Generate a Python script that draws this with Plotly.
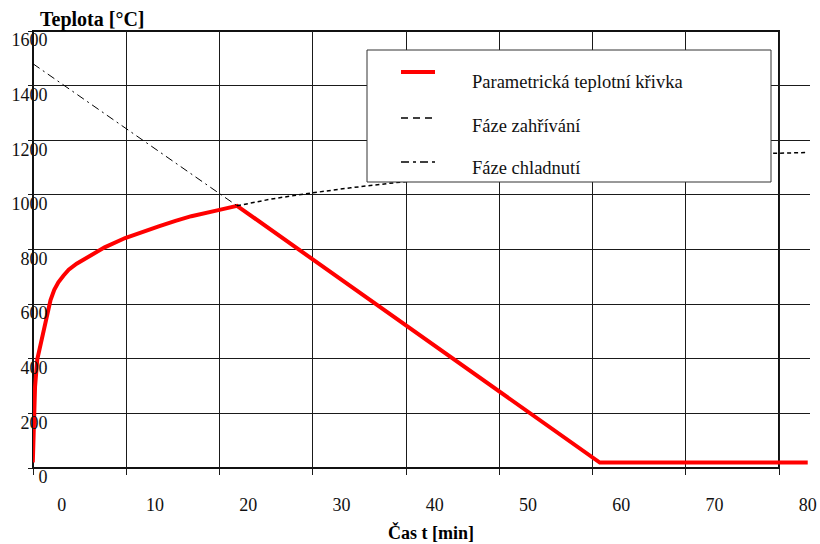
import plotly.graph_objects as go

# ---------------- data ----------------
param_time = [-3.1, -2.95, -2.86, -2.62, -2.3, -1.97, -1.55, -1.2, -0.8, -0.36, 0.2, 0.75, 1.6, 2.6, 3.6, 4.6, 6.8,
              8.6, 10.4, 12.2, 13.9, 16.8, 18.8, 57.7, 80.0]
param_temp = [20, 200, 297, 398, 450, 495, 565, 615, 652, 680, 705, 726, 748, 768, 789, 808, 842,
              865, 885, 905, 922, 944, 960, 20, 20]

heat_time = [18.8, 22.5, 26.8, 31.0, 35.6, 45.0, 55.0, 65.0, 76.0, 80.0]
heat_temp = [960, 985, 1007, 1026, 1044, 1075, 1102, 1125, 1152, 1155]

cool_time = [-3.08, 18.8]
cool_temp = [1480, 960]

x_tick_vals = [0, 10, 20, 30, 40, 50, 60, 70, 80]
x_tick_text = ["0", "10", "20", "30", "40", "50", "60", "70", "80"]
y_tick_vals = [0, 200, 400, 600, 800, 1000, 1200, 1400, 1600]
y_tick_text = ["0", "200", "400", "600", "800", "1000", "1200", "1400", "1600"]

legend_names = ["Parametrická teplotní křivka", "Fáze zahřívání", "Fáze chladnutí"]
x_title = "Čas t [min]"
y_title = "Teplota [°C]"

# ---------------- layout constants ----------------
W, H = 820, 544
ML, MR, MT, MB = 33, 10, 31, 76
PW, PH = W - ML - MR, H - MT - MB
X0 = -3.08            # left edge of frame (time units)
PX_PER_MIN = 9.325
X1 = X0 + PW / PX_PER_MIN
grid_x = [X0 + 10 * k for k in range(9)]
FONT = "Liberation Serif, Times New Roman, serif"


def px(xp):
    return (xp - ML) / PW


def py(yp):
    return (H - MB - yp) / PH


fig = go.Figure()
fig.add_trace(go.Scatter(x=param_time, y=param_temp, mode="lines",
                         line=dict(color="#ff0000", width=4),
                         name=legend_names[0], showlegend=False))
fig.add_trace(go.Scatter(x=heat_time, y=heat_temp, mode="lines",
                         line=dict(color="#000000", width=1.5, dash="4px,3px"),
                         name=legend_names[1], showlegend=False))
fig.add_trace(go.Scatter(x=cool_time, y=cool_temp, mode="lines",
                         line=dict(color="#000000", width=1, dash="8px,4px,2px,4px"),
                         name=legend_names[2], showlegend=False))
# invisible trace on the label axis
fig.add_trace(go.Scatter(x=[X0, X1], y=[None, None], xaxis="x2", yaxis="y",
                         mode="lines", showlegend=False, hoverinfo="skip"))

frame_right = (grid_x[-1] - X0) / (X1 - X0)
shapes = [
    # hide gridlines to the right of the frame
    dict(type="rect", xref="x", yref="paper", x0=grid_x[-1] + 1.3 / PX_PER_MIN, x1=X1 + 1,
         y0=-0.001, y1=1.001, fillcolor="white", line=dict(width=0), layer="below"),
    # frame (paper-referenced so its edges are not clipped)
    dict(type="rect", xref="paper", yref="paper", x0=0, x1=frame_right, y0=0, y1=1,
         line=dict(color="#111111", width=2), fillcolor="rgba(0,0,0,0)", layer="below"),
    # legend box
    dict(type="rect", xref="paper", yref="paper", x0=px(367), x1=px(771), y0=py(182), y1=py(50),
         line=dict(color="#333333", width=1), fillcolor="white", layer="above"),
    dict(type="line", xref="paper", yref="paper", x0=px(401), x1=px(435), y0=py(72), y1=py(72),
         line=dict(color="#ff0000", width=4), layer="above"),
    dict(type="line", xref="paper", yref="paper", x0=px(401), x1=px(435), y0=py(118), y1=py(118),
         line=dict(color="#000000", width=1.5, dash="7px,5px"), layer="above"),
    dict(type="line", xref="paper", yref="paper", x0=px(401), x1=px(435), y0=py(162), y1=py(162),
         line=dict(color="#000000", width=1.5, dash="8px,4px,3px,4px"), layer="above"),
]

LEG_FONT = dict(family=FONT, size=18.5, color="#111")
annotations = [
    dict(text=legend_names[0], xref="paper", yref="paper", x=px(470), y=py(82),
         xanchor="left", yanchor="middle", showarrow=False, font=LEG_FONT),
    dict(text=legend_names[1], xref="paper", yref="paper", x=px(470), y=py(126),
         xanchor="left", yanchor="middle", showarrow=False, font=LEG_FONT),
    dict(text=legend_names[2], xref="paper", yref="paper", x=px(470), y=py(168),
         xanchor="left", yanchor="middle", showarrow=False, font=LEG_FONT),
    dict(text="<b>" + y_title + "</b>", xref="paper", yref="paper", x=px(92), y=py(19),
         xanchor="center", yanchor="middle", showarrow=False, font=dict(family=FONT, size=20, color="#000")),
    dict(text="<b>" + x_title + "</b>", xref="paper", yref="paper", x=px(431), y=py(532),
         xanchor="center", yanchor="middle", showarrow=False, font=dict(family=FONT, size=18, color="#000")),
]

fig.update_layout(
    width=W, height=H,
    margin=dict(l=ML, r=MR, t=MT, b=MB, pad=0, autoexpand=False),
    paper_bgcolor="white", plot_bgcolor="rgba(0,0,0,0)",
    font=dict(family=FONT, size=18, color="#111"),
    showlegend=False,
    xaxis=dict(range=[X0, X1], tickmode="array", tickvals=grid_x, showticklabels=False,
               showgrid=True, gridcolor="#1a1a1a", gridwidth=1, zeroline=False, showline=False,
               ticks="outside", ticklen=6, tickcolor="#1a1a1a", tickwidth=1, fixedrange=True,
               automargin=False),
    xaxis2=dict(overlaying="x", anchor="y", side="bottom", range=[X0, X1], tickmode="array",
                tickvals=x_tick_vals, ticktext=x_tick_text, showgrid=False, zeroline=False,
                showline=False, ticks="", ticklabelstandoff=24, automargin=False,
                tickfont=dict(family=FONT, size=18, color="#111")),
    yaxis=dict(range=[0, 1600], tickmode="array", tickvals=y_tick_vals, ticktext=y_tick_text,
               showgrid=True, gridcolor="#1a1a1a", gridwidth=1, zeroline=False,
               showline=False,
               ticks="outside", ticklen=4, tickcolor="#1a1a1a",
               ticklabelstandoff=-23, ticklabelshift=9, automargin=False,
               tickfont=dict(family=FONT, size=18, color="#111")),
    shapes=shapes,
    annotations=annotations,
)

fig.write_html("out.html",
               config={"displayModeBar": False},
               post_script="document.body.style.margin='0';document.body.style.padding='0';")
